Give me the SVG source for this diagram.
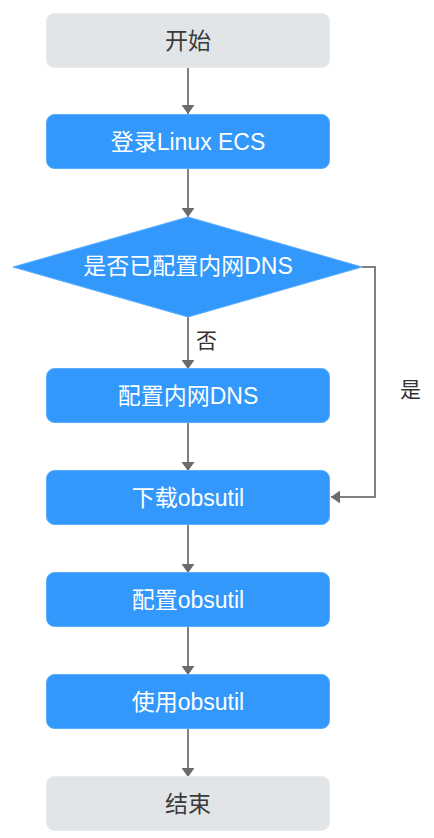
<svg xmlns="http://www.w3.org/2000/svg" width="434" height="838" viewBox="0 0 434 838">
<style>
.blue{fill:#3398fb;stroke:#5aaefc;stroke-width:1}
.gray{fill:#e2e5e7;stroke:#e8eaec;stroke-width:1}
.t{font-family:"Liberation Sans","Noto Sans CJK SC",sans-serif;font-size:23px;text-anchor:middle;dominant-baseline:central}
.tw{fill:#ffffff}
.td{fill:#3a3a3a}
.lbl{font-family:"Liberation Sans","Noto Sans CJK SC",sans-serif;font-size:21px;fill:#333333;dominant-baseline:central}
.c{fill:none;stroke:#808080;stroke-width:2;marker-end:url(#ah)}
</style>
<defs>
<marker id="ah" viewBox="0 0 10 10" refX="10" refY="5" markerUnits="userSpaceOnUse" markerWidth="9" markerHeight="13" orient="auto" preserveAspectRatio="none">
<path d="M0,0 L10,5 L0,10 Z" fill="#6b6b6b"/>
</marker>
</defs>
<rect width="434" height="838" fill="#ffffff"/>
<g id="connectors">
<line class="c" x1="188" y1="67" x2="188" y2="114"/>
<line class="c" x1="188" y1="169" x2="188" y2="217"/>
<line class="c" x1="188" y1="317" x2="188" y2="369"/>
<line class="c" x1="188" y1="423" x2="188" y2="471"/>
<line class="c" x1="188" y1="525" x2="188" y2="573"/>
<line class="c" x1="188" y1="627" x2="188" y2="675"/>
<line class="c" x1="188" y1="729" x2="188" y2="777"/>
<polyline class="c" points="362,267 375,267 375,497 331,497"/>
<text class="lbl" x="196" y="340">否</text>
<text class="lbl" x="400" y="389">是</text>
</g>
<g id="start">
<rect class="gray" x="46.5" y="13.5" width="283" height="54" rx="8"/>
<text class="t td" x="188" y="40.5">开始</text>
</g>
<g id="login">
<rect class="blue" x="46.5" y="114.5" width="283" height="54" rx="8"/>
<text class="t tw" x="188" y="141.5">登录Linux ECS</text>
</g>
<g id="decision">
<polygon class="blue" points="188,217 362,267 188,317 13,267"/>
<text class="t tw" x="188" y="266">是否已配置内网DNS</text>
</g>
<g id="config-dns">
<rect class="blue" x="46.5" y="368.5" width="283" height="54" rx="8"/>
<text class="t tw" x="188" y="395.5">配置内网DNS</text>
</g>
<g id="download">
<rect class="blue" x="46.5" y="470.5" width="283" height="54" rx="8"/>
<text class="t tw" x="188" y="497.5">下载obsutil</text>
</g>
<g id="configure">
<rect class="blue" x="46.5" y="572.5" width="283" height="54" rx="8"/>
<text class="t tw" x="188" y="599.5">配置obsutil</text>
</g>
<g id="use">
<rect class="blue" x="46.5" y="674.5" width="283" height="54" rx="8"/>
<text class="t tw" x="188" y="701.5">使用obsutil</text>
</g>
<g id="end">
<rect class="gray" x="46.5" y="776.5" width="283" height="54" rx="8"/>
<text class="t td" x="188" y="803.5">结束</text>
</g>
</svg>
